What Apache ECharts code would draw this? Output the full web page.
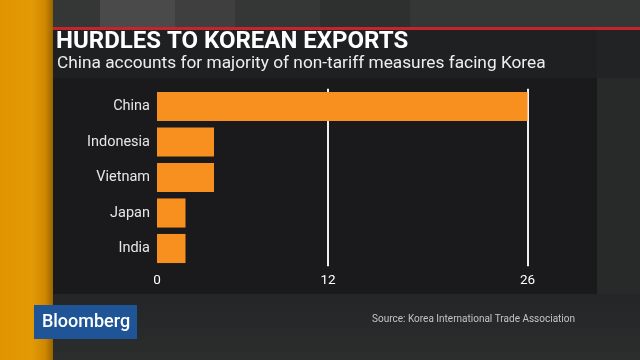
<!DOCTYPE html>
<html>
<head>
<meta charset="utf-8">
<script src="https://cdn.jsdelivr.net/npm/echarts@6/dist/echarts.min.js"></script>
<style>
html,body{margin:0;padding:0;background:#2a2b2b;}
#chart{width:640px;height:360px;}
</style>
</head>
<body>
<div id="chart"></div>
<script>
const categories = ['China', 'Indonesia', 'Vietnam', 'Japan', 'India'];
const values = [26, 4, 4, 2, 2];
const tickValues = [0, 12, 26];
const gridValues = [12, 26];
const titleText = 'HURDLES TO KOREAN EXPORTS';
const subtitleText = 'China accounts for majority of non-tariff measures facing Korea';
const sourceText = 'Source: Korea International Trade Association';

const chart = echarts.init(document.getElementById('chart'));
chart.setOption({
  backgroundColor: '#282929',
  animation: false,
  graphic: [
    // top band
    { type: 'rect', z: -10, shape: { x: 0, y: 0, width: 640, height: 28 }, style: { fill: '#353636' } },
    { type: 'rect', z: -9, shape: { x: 100, y: 0, width: 75, height: 28 }, style: { fill: '#4a4a4a' } },
    { type: 'rect', z: -9, shape: { x: 175, y: 0, width: 60, height: 28 }, style: { fill: '#3f3f3f' } },
    { type: 'rect', z: -9, shape: { x: 320, y: 0, width: 90, height: 28 }, style: { fill: '#2e2f2f' } },
    // red line
    { type: 'rect', z: -8, shape: { x: 53, y: 27, width: 587, height: 3 }, style: { fill: '#c8232a' } },
    // title panel
    { type: 'rect', z: -8, shape: { x: 53, y: 30, width: 544, height: 48 }, style: { fill: '#1f2022' } },
    { type: 'rect', z: -8, shape: { x: 597, y: 30, width: 43, height: 48 }, style: { fill: '#222325' } },
    // chart panel
    { type: 'rect', z: -8, shape: { x: 53, y: 78, width: 544, height: 216 }, style: { fill: '#1a1a1d' } },
    // lower gradient
    { type: 'rect', z: -9, shape: { x: 53, y: 294, width: 587, height: 66 },
      style: { fill: new echarts.graphic.LinearGradient(0, 0, 0, 1, [{ offset: 0, color: '#242526' }, { offset: 1, color: '#2c2d2d' }]) } },
    // left strip
    { type: 'rect', z: -7, shape: { x: 0, y: 0, width: 53, height: 360 },
      style: { fill: new echarts.graphic.LinearGradient(0, 0, 1, 0, [
        { offset: 0, color: '#e09400' }, { offset: 0.6, color: '#e39a05' },
        { offset: 0.85, color: '#cf8800' }, { offset: 1, color: '#9a6500' }]) } },
    // Bloomberg box
    { type: 'rect', z: 10, shape: { x: 34, y: 305, width: 103, height: 34 }, style: { fill: '#1f5596' } },
    { type: 'text', z: 11, x: 86, y: 322, style: { text: 'Bloomberg', fill: '#ffffff', font: '500 18px Roboto', align: 'center', verticalAlign: 'middle' } }
  ],
  title: [
    { text: titleText, left: 56, top: 30, textStyle: { color: '#ffffff', fontFamily: 'Roboto', fontWeight: 'bold', fontSize: 24 }, padding: 0 },
    { text: subtitleText, left: 57, top: 55, textStyle: { color: '#eeeeee', fontFamily: 'Roboto', fontWeight: 'normal', fontSize: 17.3 }, padding: 0 },
    { text: sourceText, right: 65, top: 314, textStyle: { color: '#c4c4c4', fontFamily: 'Roboto', fontWeight: 'normal', fontSize: 10 }, padding: 0 }
  ],
  grid: { left: 157, right: 112.5, top: 88.75, bottom: 93.75 },
  xAxis: {
    type: 'value', min: 0, max: 26,
    axisLine: { show: false }, axisTick: { show: false }, splitLine: { show: false },
    axisLabel: { customValues: tickValues, color: '#ffffff', fontFamily: 'Roboto', fontSize: 13.5, margin: 7 }
  },
  yAxis: {
    type: 'category', data: categories, inverse: true,
    axisLine: { show: false }, axisTick: { show: false },
    axisLabel: { color: '#e6e6e6', fontFamily: 'Roboto', fontSize: 14.5, margin: 7 }
  },
  series: [{
    type: 'bar', data: values, z: 3,
    barCategoryGap: '18%',
    itemStyle: { color: '#f7901e' },
    markLine: {
      z: 1, silent: true, symbol: 'none', label: { show: false },
      lineStyle: { color: '#eeeeee', width: 2, type: 'solid' },
      data: gridValues.map(v => ({ xAxis: v }))
    }
  }]
});
</script>
</body>
</html>
